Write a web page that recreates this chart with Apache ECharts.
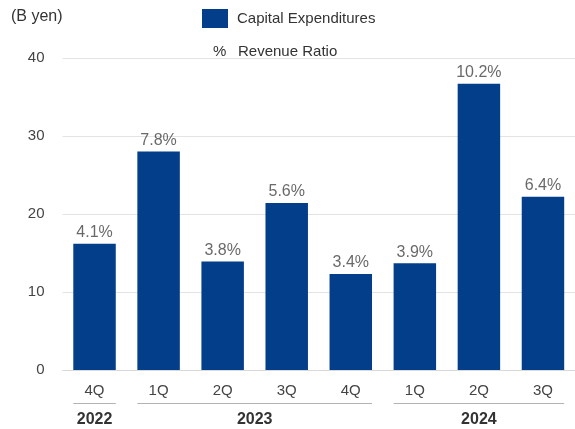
<!DOCTYPE html>
<html>
<head>
<meta charset="utf-8">
<script src="https://cdn.jsdelivr.net/npm/echarts@6/dist/echarts.min.js"></script>
<style>html,body{margin:0;padding:0;background:#fff}#c{width:575px;height:429px}</style>
</head>
<body>
<div id="c"></div>
<script>
var quarters = ['4Q','1Q','2Q','3Q','4Q','1Q','2Q','3Q'];
var years = ['2022','2023','2023','2023','2023','2024','2024','2024'];
var capex = [16.2, 28.0, 13.9, 21.4, 12.3, 13.7, 36.7, 22.2];
var ratio = ['4.1','7.8','3.8','5.6','3.4','3.9','10.2','6.4'];
var yTicks = [0, 10, 20, 30, 40];

var FONT = '"Liberation Sans", Arial, Helvetica, sans-serif';
var BAR_FRAC = 0.663;

// build year groups from the years array
var groups = [];
years.forEach(function (y, i) {
  var g = groups[groups.length - 1];
  if (g && g.name === y) { g.end = i; } else { groups.push({ name: y, start: i, end: i }); }
});
var groupData = groups.map(function (g, k) { return [g.start, g.end, 0, k]; });

var chart = echarts.init(document.getElementById('c'), null, { renderer: 'canvas' });
chart.setOption({
  animation: false,
  textStyle: { fontFamily: FONT },
  grid: { left: 62.5, width: 515, top: 58, bottom: 59 },
  graphic: [{
    type: 'text', left: 11, top: 9,
    style: { text: '(B yen)', font: '16px ' + FONT, fill: '#333' }
  }],
  legend: [{
    data: ['Capital Expenditures'],
    left: 202, top: 9, padding: 0, icon: 'rect', itemWidth: 26, itemHeight: 19, itemGap: 8,
    selectedMode: false,
    textStyle: { fontSize: 15, color: '#333', fontFamily: FONT, padding: [0, 0, 2, 4] }
  }, {
    data: ['Revenue Ratio'],
    left: 207, top: 44, padding: 0, itemWidth: 1, itemHeight: 1,
    itemStyle: { opacity: 0 },
    selectedMode: false,
    formatter: function (n) { return '{p|%}{t|' + n + '}'; },
    textStyle: {
      fontSize: 15, color: '#333', fontFamily: FONT,
      rich: {
        p: { width: 25, fontSize: 15, color: '#333', fontFamily: FONT },
        t: { fontSize: 15, color: '#333', fontFamily: FONT }
      }
    }
  }],
  xAxis: {
    type: 'category', data: quarters,
    axisLine: { lineStyle: { color: '#d9d9d9' } },
    axisTick: { show: false },
    axisLabel: { fontSize: 15, color: '#444', margin: 13, fontFamily: FONT }
  },
  yAxis: {
    type: 'value', min: yTicks[0], max: yTicks[yTicks.length - 1], interval: 10,
    axisLine: { show: false }, axisTick: { show: false },
    axisLabel: { fontSize: 15, color: '#444', margin: 18, fontFamily: FONT },
    splitLine: { lineStyle: { color: '#e3e3e3' } }
  },
  series: [{
    name: 'Capital Expenditures', type: 'bar', data: capex,
    barWidth: (BAR_FRAC * 100) + '%',
    itemStyle: { color: '#023e8a' }
  }, {
    name: 'Revenue Ratio', type: 'scatter', symbolSize: 0,
    itemStyle: { color: '#023e8a' },
    data: capex.map(function (v, i) { return [i, v, ratio[i]]; }),
    label: {
      show: true, position: 'top', distance: 3,
      fontSize: 16, color: '#444', fontFamily: FONT,
      formatter: function (p) { return p.value[2] + '%'; }
    }
  }, {
    type: 'custom', silent: true, clip: false,
    encode: { x: [0, 1], y: 2 },
    data: groupData,
    renderItem: function (params, api) {
      var s = api.value(0), e = api.value(1), k = api.value(3);
      var p0 = api.coord([s, 0]);
      var p1 = api.coord([e, 0]);
      var band = api.size([1, 0])[0];
      var half = band * BAR_FRAC / 2;
      var x0 = p0[0] - half, x1 = p1[0] + half;
      var yl = p0[1] + 33.5;
      return {
        type: 'group',
        children: [{
          type: 'line',
          shape: { x1: x0, y1: yl, x2: x1, y2: yl },
          style: { stroke: '#b3b3b3', lineWidth: 1 }
        }, {
          type: 'text',
          style: {
            x: (p0[0] + p1[0]) / 2, y: yl + 16,
            text: groups[k].name, fill: '#333',
            font: 'bold 16px ' + FONT, align: 'center', verticalAlign: 'middle'
          }
        }]
      };
    }
  }]
});
</script>
</body>
</html>
